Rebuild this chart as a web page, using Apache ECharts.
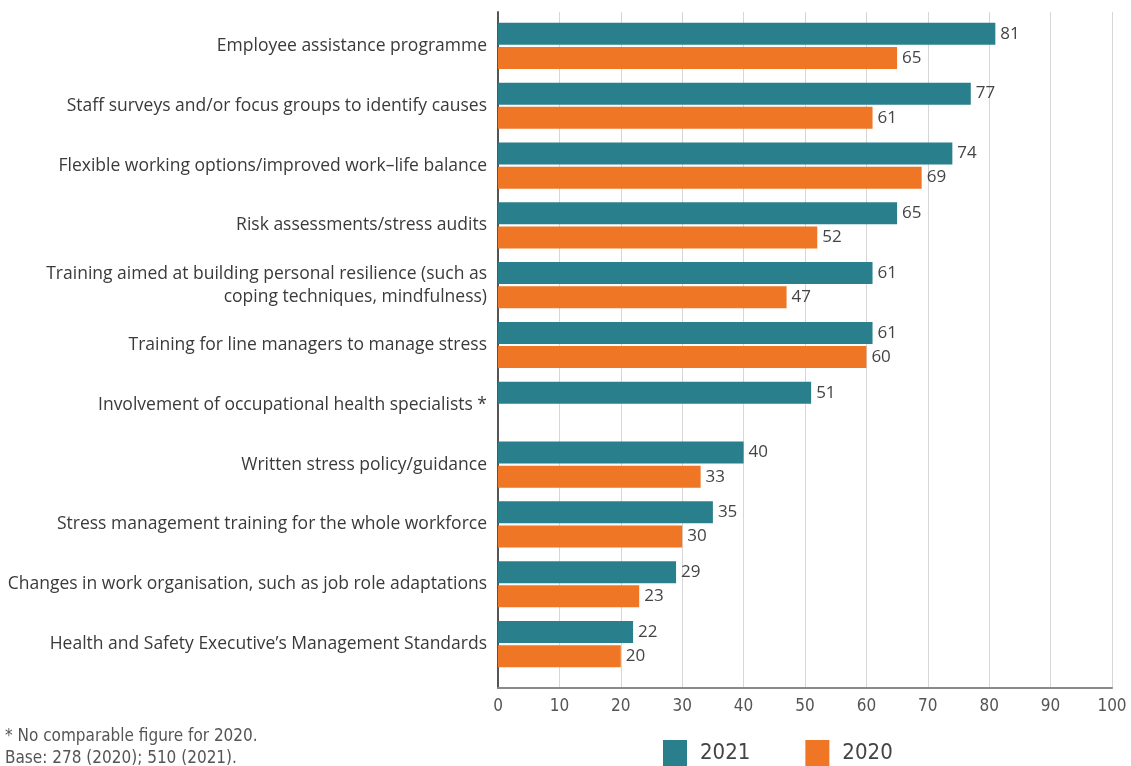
<!DOCTYPE html>
<html>
<head>
<meta charset="utf-8">
<script src="https://cdn.jsdelivr.net/npm/echarts@6/dist/echarts.min.js"></script>
<style>
  html, body { margin: 0; padding: 0; background: #fff; }
  #chart { width: 1131px; height: 766px; }
</style>
</head>
<body>
<div id="chart"></div>
<script>
// Stress-management measures, share of organisations (%)
const categories = [
  'Employee assistance programme',
  'Staff surveys and/or focus groups to identify causes',
  'Flexible working options/improved work–life balance',
  'Risk assessments/stress audits',
  'Training aimed at building personal resilience (such as\ncoping techniques, mindfulness)',
  'Training for line managers to manage stress',
  'Involvement of occupational health specialists *',
  'Written stress policy/guidance',
  'Stress management training for the whole workforce',
  'Changes in work organisation, such as job role adaptations',
  'Health and Safety Executive’s Management Standards'
];
const values2021 = [81, 77, 74, 65, 61, 61, 51, 40, 35, 29, 22];
const values2020 = [65, 61, 69, 52, 47, 60, null, 33, 30, 23, 20];
const xTicks = [0, 10, 20, 30, 40, 50, 60, 70, 80, 90, 100];
const footnotes = ['* No comparable figure for 2020.', 'Base: 278 (2020); 510 (2021).'];

const TEAL = '#2a7f8c';
const ORANGE = '#ee7624';
const narrow = '"Liberation Sans Narrow", "DejaVu Sans Condensed", "Liberation Sans", sans-serif';
const body = '"Open Sans", "Noto Sans", sans-serif';

const chart = echarts.init(document.getElementById('chart'), null, { renderer: 'canvas' });

chart.setOption({
  animation: false,
  backgroundColor: '#fff',
  grid: [
    // frame: value scale, gridlines and axis lines
    { left: 498, right: 19, top: 12, height: 676 },
    // bars
    { left: 498, right: 19, top: 16, height: 658 }
  ],
  xAxis: [
    {
      gridIndex: 0, type: 'value',
      min: xTicks[0], max: xTicks[xTicks.length - 1], interval: 10,
      axisLine: { show: true, lineStyle: { color: '#8a8a8a', width: 2 } },
      axisTick: { show: false },
      splitLine: { show: true, lineStyle: { color: '#d6d6d6', width: 1 } },
      axisLabel: { color: '#555', fontFamily: narrow, fontSize: 17, margin: 10 }
    },
    {
      gridIndex: 1, type: 'value', min: 0, max: 100, show: false
    }
  ],
  yAxis: [
    {
      gridIndex: 0, type: 'category', data: [''],
      axisLine: { show: true, lineStyle: { color: '#555', width: 2 } },
      axisTick: { show: false }, axisLabel: { show: false }, splitLine: { show: false }
    },
    {
      gridIndex: 1, type: 'category', inverse: true, data: categories,
      axisLine: { show: false }, axisTick: { show: false },
      axisLabel: {
        color: '#3a3a3a', fontFamily: body, fontSize: 17.5, margin: 11,
        align: 'right', lineHeight: 23
      }
    }
  ],
  legend: {
    left: 658, top: 735,
    itemWidth: 24, itemHeight: 27, itemGap: 55,
    icon: 'rect',
    data: ['2021', '2020'],
    textStyle: { color: '#444', fontFamily: narrow, fontSize: 22, padding: [0, 0, 0, 8] }
  },
  series: [
    {
      name: '2021', type: 'bar', xAxisIndex: 1, yAxisIndex: 1,
      data: values2021, barWidth: 22, barGap: '10%', barCategoryGap: '23%',
      itemStyle: { color: TEAL },
      label: { show: true, position: 'right', distance: 5, color: '#444', fontFamily: body, fontSize: 17 }
    },
    {
      name: '2020', type: 'bar', xAxisIndex: 1, yAxisIndex: 1,
      data: values2020, barWidth: 22, barGap: '10%', barCategoryGap: '23%',
      itemStyle: { color: ORANGE },
      label: { show: true, position: 'right', distance: 5, color: '#444', fontFamily: body, fontSize: 17 }
    }
  ],
  graphic: [
    {
      type: 'text', x: 5, y: 737,
      style: { text: footnotes[0], fill: '#555', font: '17px ' + narrow, verticalAlign: 'middle' }
    },
    {
      type: 'text', x: 5, y: 759,
      style: { text: footnotes[1], fill: '#555', font: '17px ' + narrow, verticalAlign: 'middle' }
    }
  ]
});
</script>
</body>
</html>
